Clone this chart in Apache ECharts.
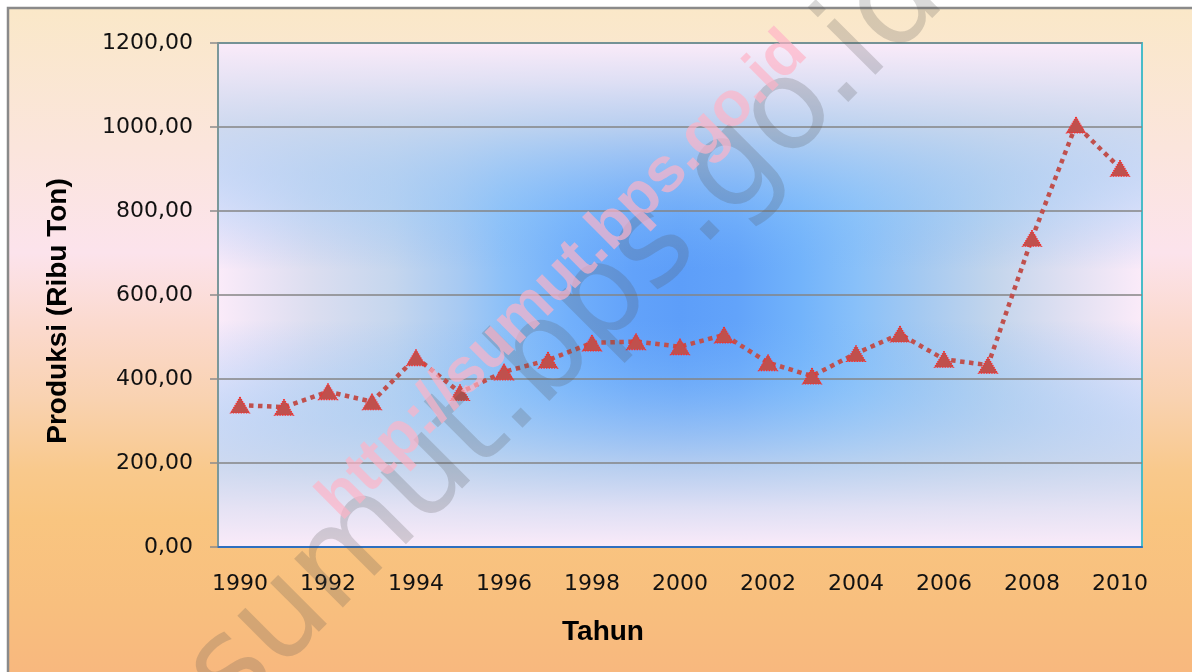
<!DOCTYPE html>
<html>
<head>
<meta charset="utf-8">
<script src="https://cdn.jsdelivr.net/npm/echarts@6/dist/echarts.min.js"></script>
<style>
  html, body { margin: 0; padding: 0; background: #fff; }
  #chart { width: 1192px; height: 672px; }
</style>
</head>
<body>
<div id="chart"></div>
<script>
// data
let years = ['1990', '1991', '1992', '1993', '1994', '1995', '1996', '1997', '1998', '1999', '2000',
    '2001', '2002', '2003', '2004', '2005', '2006', '2007', '2008', '2009', '2010'];
let produksi = [338, 333, 370, 346, 451, 368, 417, 445, 486, 489, 477,
    505, 439, 407, 461, 507, 447, 433, 735, 1005, 902];
let yTicks = [0, 200, 400, 600, 800, 1000, 1200];

// plot area in px
let plot = { left: 218, top: 43, width: 924, height: 504 };

let chart = echarts.init(document.getElementById('chart'), null, { renderer: 'canvas' });

// horizontal part of the centre gradient
let bgH = new echarts.graphic.LinearGradient(0, 0, 1, 0, [
    { offset: 0, color: '#fbebf9' },
    { offset: 0.05, color: '#ebe4f5' },
    { offset: 0.1, color: '#dcdef0' },
    { offset: 0.19, color: '#c5d6ee' },
    { offset: 0.26, color: '#a8caf2' },
    { offset: 0.31, color: '#8cc0f8' },
    { offset: 0.38, color: '#72b0fb' },
    { offset: 0.45, color: '#62a2fa' },
    { offset: 0.5, color: '#5d9ef9' },
    { offset: 0.56, color: '#62a3fa' },
    { offset: 0.63, color: '#72b3fb' },
    { offset: 0.69, color: '#88c0f9' },
    { offset: 0.76, color: '#a4c9f1' },
    { offset: 0.84, color: '#c3d5ec' },
    { offset: 0.92, color: '#e0e0f2' },
    { offset: 1, color: '#fbebf9' }
]);
// vertical part, fades out toward the middle
let bgV = new echarts.graphic.LinearGradient(0, 0, 0, 1, [
    { offset: 0, color: 'rgba(251,235,249,1)' },
    { offset: 0.08, color: 'rgba(228,226,244,0.95)' },
    { offset: 0.17, color: 'rgba(198,214,238,0.85)' },
    { offset: 0.26, color: 'rgba(168,204,244,0.6)' },
    { offset: 0.35, color: 'rgba(140,196,250,0.3)' },
    { offset: 0.45, color: 'rgba(120,180,250,0)' },
    { offset: 0.55, color: 'rgba(120,180,250,0)' },
    { offset: 0.66, color: 'rgba(140,196,250,0.3)' },
    { offset: 0.75, color: 'rgba(168,204,244,0.6)' },
    { offset: 0.84, color: 'rgba(198,214,238,0.85)' },
    { offset: 0.92, color: 'rgba(228,226,244,0.95)' },
    { offset: 1, color: 'rgba(251,235,249,1)' }
]);
// outer chart area
let bgOuter = new echarts.graphic.LinearGradient(0, 0, 0, 1, [
    { offset: 0, color: '#fae8c8' },
    { offset: 0.2, color: '#fbe5dc' },
    { offset: 0.35, color: '#fce3ec' },
    { offset: 0.46, color: '#fbd9cc' },
    { offset: 0.56, color: '#f9d2b0' },
    { offset: 0.66, color: '#f9c98c' },
    { offset: 0.73, color: '#f9c580' },
    { offset: 0.85, color: '#f8bf7e' },
    { offset: 1, color: '#f8b47e' }
]);

let fmt = function(v) {
    return v.toFixed(2).replace('.', ',');
};

let option = {
    backgroundColor: '#ffffff',
    animation: false,
    grid: {
        left: plot.left,
        top: plot.top,
        width: plot.width,
        height: plot.height
    },
    graphic: [
        {
            type: 'rect', z: -3, silent: true,
            shape: { x: 8, y: 8, width: 1200, height: 700 },
            style: { fill: bgOuter, stroke: '#8a8a8a', lineWidth: 2.5 }
        },
        {
            type: 'rect', z: -2, silent: true,
            shape: { x: plot.left, y: plot.top, width: plot.width, height: plot.height },
            style: { fill: bgH }
        },
        {
            type: 'rect', z: -1, silent: true,
            shape: { x: plot.left, y: plot.top, width: plot.width, height: plot.height },
            style: { fill: bgV, stroke: '#48bcc8', lineWidth: 2 }
        },
        // watermarks
        {
            type: 'text', z: 100, silent: true,
            x: 567, y: 337, rotation: Math.PI / 4,
            style: {
                text: 'sumut.bps.go.id',
                font: '126px "DejaVu Sans"',
                fill: 'rgba(80,80,80,0.22)',
                align: 'center', verticalAlign: 'middle'
            }
        },
        {
            type: 'text', z: 101, silent: true,
            x: 563, y: 276, rotation: Math.PI / 4,
            style: {
                text: 'http://sumut.bps.go.id',
                font: 'bold 63px "Liberation Sans"',
                fill: 'rgba(255,178,198,0.68)',
                align: 'center', verticalAlign: 'middle'
            }
        }
    ],
    xAxis: {
        type: 'category',
        data: years,
        boundaryGap: true,
        name: 'Tahun',
        nameLocation: 'middle',
        nameGap: 71,
        nameTextStyle: {
            fontFamily: 'Liberation Sans', fontWeight: 'bold', fontSize: 28, color: '#000',
            padding: [0, 154, 0, 0]
        },
        axisLine: { lineStyle: { color: '#2f6fbf', width: 2 } },
        axisTick: { inside: true, length: 6, interval: 0, lineStyle: { color: '#999', width: 1.5 } },
        axisLabel: {
            interval: 1, margin: 26,
            fontFamily: 'DejaVu Sans', fontSize: 22, color: '#111'
        },
        splitLine: { show: false }
    },
    yAxis: {
        type: 'value',
        min: yTicks[0],
        max: yTicks[yTicks.length - 1],
        interval: yTicks[1] - yTicks[0],
        name: 'Produksi (Ribu Ton)',
        nameLocation: 'middle',
        nameGap: 146,
        nameTextStyle: {
            fontFamily: 'Liberation Sans', fontWeight: 'bold', fontSize: 28, color: '#000',
            padding: [0, 32, 0, 0]
        },
        axisLine: { show: true, lineStyle: { color: '#8c8c8c', width: 1.5 } },
        axisTick: { show: true, length: 8, lineStyle: { color: '#8c8c8c', width: 1.5 } },
        axisLabel: {
            margin: 25, formatter: fmt,
            fontFamily: 'DejaVu Sans', fontSize: 22, color: '#111'
        },
        splitLine: { lineStyle: { color: '#858585', width: 1.5 } }
    },
    series: [{
        type: 'line',
        data: produksi,
        z: 5,
        symbol: 'triangle',
        symbolSize: [19, 16],
        lineStyle: { color: '#c0504d', width: 4.5, type: [4.5, 4.5] },
        itemStyle: { color: '#c0504d', borderColor: '#ff2a2a', borderWidth: 1.2, borderType: 'dotted' }
    }]
};

chart.setOption(option);
</script>
</body>
</html>
